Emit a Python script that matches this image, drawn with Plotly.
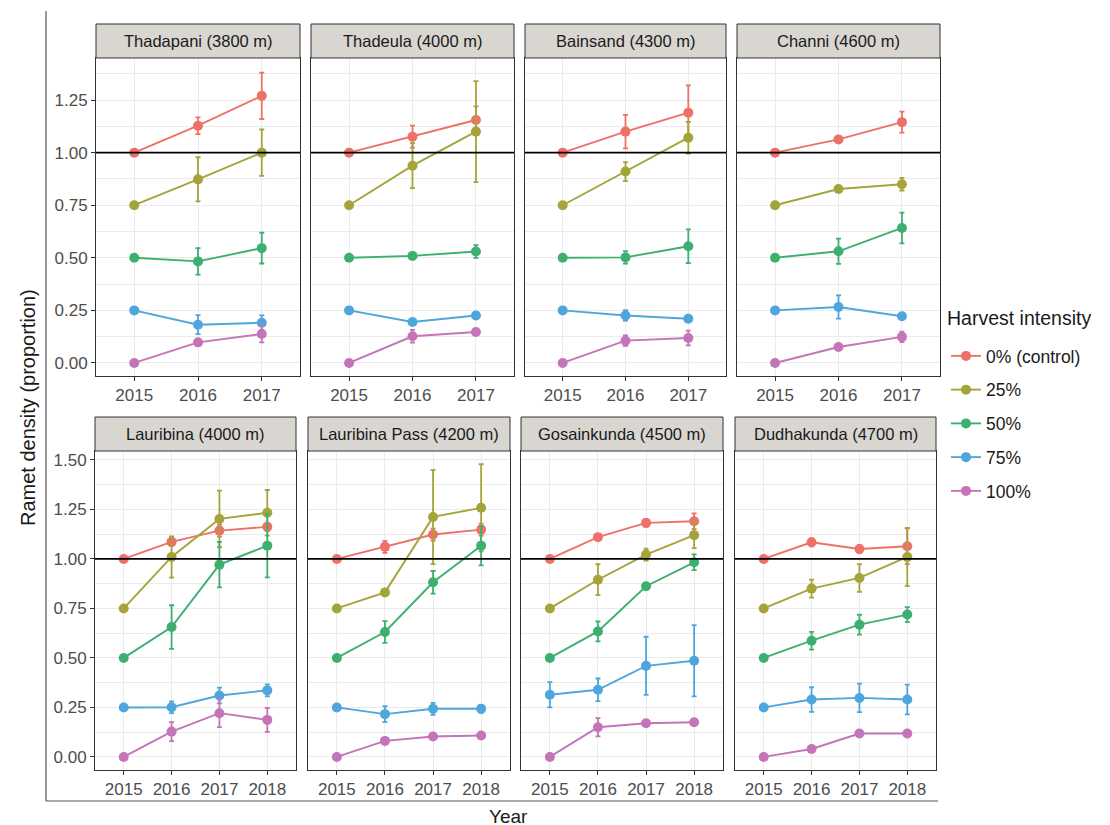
import plotly.graph_objects as go

# ---------------- data ----------------
years_top = [2015, 2016, 2017]
years_bottom = [2015, 2016, 2017, 2018]
intensities = ["0% (control)", "25%", "50%", "75%", "100%"]
colors = ["#EE7168", "#A5A43A", "#3DB070", "#4FA6DC", "#C474B8"]

sites_top = ["Thadapani (3800 m)", "Thadeula (4000 m)", "Bainsand (4300 m)", "Channi (4600 m)"]
sites_bottom = ["Lauribina (4000 m)", "Lauribina Pass (4200 m)", "Gosainkunda (4500 m)", "Dudhakunda (4700 m)"]

# means: one list per harvest intensity (0, 25, 50, 75, 100 %)
thadapani_mean = [[1.00, 1.128, 1.27], [0.75, 0.873, 1.00], [0.50, 0.483, 0.546], [0.25, 0.182, 0.191], [0.00, 0.098, 0.138]]
thadapani_se = [[0, 0.04, 0.11], [0, 0.105, 0.11], [0, 0.063, 0.073], [0, 0.045, 0.035], [0, 0.01, 0.04]]
thadeula_mean = [[1.00, 1.076, 1.155], [0.75, 0.938, 1.10], [0.50, 0.509, 0.530], [0.25, 0.195, 0.226], [0.00, 0.127, 0.147]]
thadeula_se = [[0, 0.052, 0.065], [0, 0.107, 0.24], [0, 0.015, 0.03], [0, 0.01, 0.015], [0, 0.03, 0.015]]
bainsand_mean = [[1.00, 1.10, 1.19], [0.75, 0.91, 1.071], [0.50, 0.502, 0.555], [0.25, 0.226, 0.21], [0.00, 0.106, 0.119]]
bainsand_se = [[0, 0.08, 0.13], [0, 0.045, 0.075], [0, 0.03, 0.08], [0, 0.025, 0.015], [0, 0.025, 0.035]]
channi_mean = [[1.00, 1.063, 1.145], [0.75, 0.827, 0.850], [0.50, 0.531, 0.642], [0.25, 0.266, 0.222], [0.00, 0.076, 0.124]]
channi_se = [[0, 0.015, 0.05], [0, 0.01, 0.03], [0, 0.06, 0.073], [0, 0.055, 0.012], [0, 0.01, 0.025]]

lauribina_mean = [[1.00, 1.086, 1.143, 1.162], [0.75, 1.01, 1.202, 1.233], [0.50, 0.656, 0.971, 1.067], [0.25, 0.251, 0.31, 0.336], [0.00, 0.128, 0.221, 0.187]]
lauribina_se = [[0, 0.02, 0.03, 0.02], [0, 0.104, 0.143, 0.115], [0, 0.11, 0.115, 0.16], [0, 0.03, 0.04, 0.03], [0, 0.048, 0.07, 0.06]]
lauribina_pass_mean = [[1.00, 1.061, 1.123, 1.148], [0.75, 0.831, 1.212, 1.258], [0.50, 0.631, 0.882, 1.067], [0.25, 0.216, 0.243, 0.243], [0.00, 0.081, 0.103, 0.108]]
lauribina_pass_se = [[0, 0.03, 0.03, 0.03], [0, 0.01, 0.238, 0.22], [0, 0.055, 0.057, 0.1], [0, 0.04, 0.03, 0.02], [0, 0.01, 0.01, 0.01]]
gosainkunda_mean = [[1.00, 1.11, 1.182, 1.19], [0.75, 0.895, 1.022, 1.12], [0.50, 0.634, 0.862, 0.983], [0.314, 0.339, 0.46, 0.486], [0.00, 0.15, 0.17, 0.175]]
gosainkunda_se = [[0, 0.015, 0.02, 0.04], [0, 0.078, 0.03, 0.065], [0, 0.05, 0.01, 0.04], [0.064, 0.057, 0.147, 0.18], [0, 0.046, 0.01, 0.01]]
dudhakunda_mean = [[1.00, 1.084, 1.05, 1.064], [0.75, 0.85, 0.904, 1.01], [0.50, 0.587, 0.668, 0.719], [0.25, 0.29, 0.298, 0.29], [0.00, 0.04, 0.118, 0.118]]
dudhakunda_se = [[0, 0.02, 0.02, 0.09], [0, 0.045, 0.07, 0.147], [0, 0.045, 0.05, 0.038], [0, 0.062, 0.072, 0.075], [0, 0.01, 0.01, 0.01]]

top_means = [thadapani_mean, thadeula_mean, bainsand_mean, channi_mean]
top_ses = [thadapani_se, thadeula_se, bainsand_se, channi_se]
bottom_means = [lauribina_mean, lauribina_pass_mean, gosainkunda_mean, dudhakunda_mean]
bottom_ses = [lauribina_se, lauribina_pass_se, gosainkunda_se, dudhakunda_se]

# ---------------- layout geometry (pixels) ----------------
W, H = 1110, 825
top_x = [(88, 292), (303, 506), (517, 718), (729, 932)]
bot_x = [(87, 288), (300, 502), (513, 715), (727, 928)]
top_y = (50, 368)
bot_y = (443, 762)
strip_h = 34


def px(x):
    return x / W


def py(y):
    return 1 - y / H


fig = go.Figure()
shapes = []
annotations = []
layout_axes = {}

FONT = "Liberation Sans, Arial, sans-serif"
TICKCOL = "#4D4D4D"
GRID = "#EBEBEB"

panels = []
for i in range(4):
    panels.append(dict(site=sites_top[i], years=years_top, mean=top_means[i], se=top_ses[i],
                       xdom=top_x[i], ydom=top_y, xr=[2014.4, 2017.6], yr=[-0.062, 1.45], col=i))
for i in range(4):
    panels.append(dict(site=sites_bottom[i], years=years_bottom, mean=bottom_means[i], se=bottom_ses[i],
                       xdom=bot_x[i], ydom=bot_y, xr=[2014.4, 2018.6], yr=[-0.066, 1.545], col=i))

for k, p in enumerate(panels):
    n = k + 1
    xa = "x" if n == 1 else f"x{n}"
    ya = "y" if n == 1 else f"y{n}"
    xkey = "xaxis" if n == 1 else f"xaxis{n}"
    ykey = "yaxis" if n == 1 else f"yaxis{n}"
    layout_axes[xkey] = dict(
        domain=[px(p["xdom"][0]), px(p["xdom"][1])], anchor=ya, range=p["xr"],
        tickvals=p["years"], ticktext=[str(v) for v in p["years"]],
        showgrid=True, gridcolor=GRID, gridwidth=1.1, zeroline=False,
        showline=True, mirror=True, linecolor="#333333", linewidth=1,
        ticks="outside", ticklen=4, tickcolor="#333333", tickwidth=1,
        tickfont=dict(size=17, color=TICKCOL, family=FONT), fixedrange=True,
    )
    layout_axes[ykey] = dict(
        domain=[py(p["ydom"][1]), py(p["ydom"][0])], anchor=xa, range=p["yr"],
        tick0=0, dtick=0.25, tickformat=".2f",
        showgrid=True, gridcolor=GRID, gridwidth=1.1, zeroline=False,
        minor=dict(dtick=0.125, tick0=0, showgrid=True, gridcolor=GRID, gridwidth=0.55),
        showline=True, mirror=True, linecolor="#333333", linewidth=1,
        ticks="outside" if p["col"] == 0 else "", ticklen=4, tickcolor="#333333", tickwidth=1,
        showticklabels=(p["col"] == 0),
        tickfont=dict(size=17, color=TICKCOL, family=FONT), fixedrange=True,
    )
    # reference line at 1
    shapes.append(dict(type="line", xref=f"{xa} domain", yref=ya, x0=0, x1=1, y0=1, y1=1,
                       line=dict(color="black", width=1.6), layer="above"))
    # strip
    shapes.append(dict(type="rect", xref="paper", yref="paper",
                       x0=px(p["xdom"][0]), x1=px(p["xdom"][1]),
                       y0=py(p["ydom"][0]), y1=py(p["ydom"][0] - strip_h),
                       fillcolor="#D9D5D1", line=dict(color="#333333", width=1)))
    annotations.append(dict(text=p["site"], xref="paper", yref="paper",
                            x=px((p["xdom"][0] + p["xdom"][1]) / 2), y=py(p["ydom"][0] - strip_h / 2),
                            showarrow=False, xanchor="center", yanchor="middle",
                            font=dict(size=16.5, color="#1A1A1A", family=FONT)))
    for s in range(5):
        fig.add_trace(go.Scatter(
            x=p["years"], y=p["mean"][s], xaxis=xa, yaxis=ya,
            mode="lines+markers", name=intensities[s], legendgroup=intensities[s],
            showlegend=(k == 0),
            line=dict(color=colors[s], width=1.9),
            marker=dict(color=colors[s], size=10),
            error_y=dict(type="data", array=p["se"][s], visible=True,
                         color=colors[s], thickness=1.8, width=2.5),
        ))

# outer axis-like frame
shapes.append(dict(type="line", xref="paper", yref="paper", x0=px(38), x1=px(38), y0=py(3), y1=py(793),
                   line=dict(color="#555555", width=1.2)))
shapes.append(dict(type="line", xref="paper", yref="paper", x0=px(38), x1=px(930), y0=py(793), y1=py(793),
                   line=dict(color="#555555", width=1.2)))

annotations.append(dict(text="Year", xref="paper", yref="paper", x=px(500), y=py(808),
                        showarrow=False, xanchor="center", yanchor="middle",
                        font=dict(size=19, color="#1A1A1A", family=FONT)))
annotations.append(dict(text="Ramet density (proportion)", xref="paper", yref="paper", x=px(20), y=py(400),
                        showarrow=False, xanchor="center", yanchor="middle", textangle=-90,
                        font=dict(size=20, color="#1A1A1A", family=FONT)))
# legend title
annotations.append(dict(text="Harvest intensity", xref="paper", yref="paper", x=px(937), y=py(310),
                        showarrow=False, xanchor="left", yanchor="middle",
                        font=dict(size=19.5, color="#1A1A1A", family=FONT)))

fig.update_layout(
    width=W, height=H, margin=dict(l=0, r=0, t=0, b=0),
    paper_bgcolor="white", plot_bgcolor="white",
    shapes=shapes, annotations=annotations,
    showlegend=True,
    legend=dict(
        x=px(938), y=py(330), xanchor="left", yanchor="top",
        font=dict(size=17.5, color="#1A1A1A", family=FONT),
        tracegroupgap=8, bgcolor="rgba(0,0,0,0)", itemwidth=30,
    ),
    **layout_axes,
)

fig.write_html("out.html")
